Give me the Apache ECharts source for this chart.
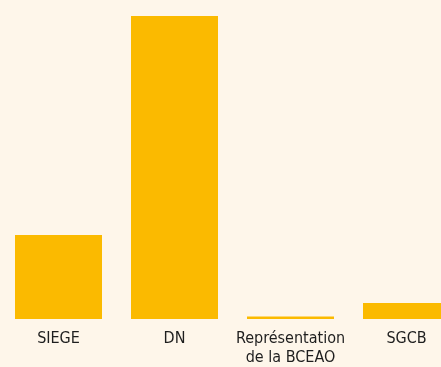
<!DOCTYPE html>
<html>
<head>
<meta charset="utf-8">
<script src="https://cdn.jsdelivr.net/npm/echarts@6/dist/echarts.min.js"></script>
<style>
  html, body { margin: 0; padding: 0; background: #fef6ea; overflow: hidden; }
  #wrap { width: 441px; height: 367px; overflow: hidden; }
  /* the plot runs past the right edge, so the last bar is cut */
  #chart { width: 465px; height: 367px; }
</style>
</head>
<body>
<div id="wrap"><div id="chart"></div></div>
<script>
// Effectifs par entité
const categories = ['SIEGE', 'DN', 'Représentation\nde la BCEAO', 'SGCB'];
const values = [336, 1212, 10, 64];

const chart = echarts.init(document.getElementById('chart'));
chart.setOption({
  backgroundColor: '#fef6ea',
  animation: false,
  grid: { left: 0.5, right: 0.5, top: 16, bottom: 48, containLabel: false },
  xAxis: {
    type: 'category',
    data: categories,
    axisLine: { show: false },
    axisTick: { show: false },
    axisLabel: {
      margin: 10,
      color: '#1e1e1e',
      fontSize: 16,
      lineHeight: 19,
      fontFamily: '"DejaVu Sans Condensed", "Liberation Sans Narrow", sans-serif',
      interval: 0
    }
  },
  yAxis: {
    type: 'value',
    min: 0,
    max: 1212,
    show: false,
    splitLine: { show: false }
  },
  series: [{
    type: 'bar',
    data: values,
    barWidth: '75%',
    itemStyle: { color: '#fbba00' }
  }]
});
</script>
</body>
</html>
